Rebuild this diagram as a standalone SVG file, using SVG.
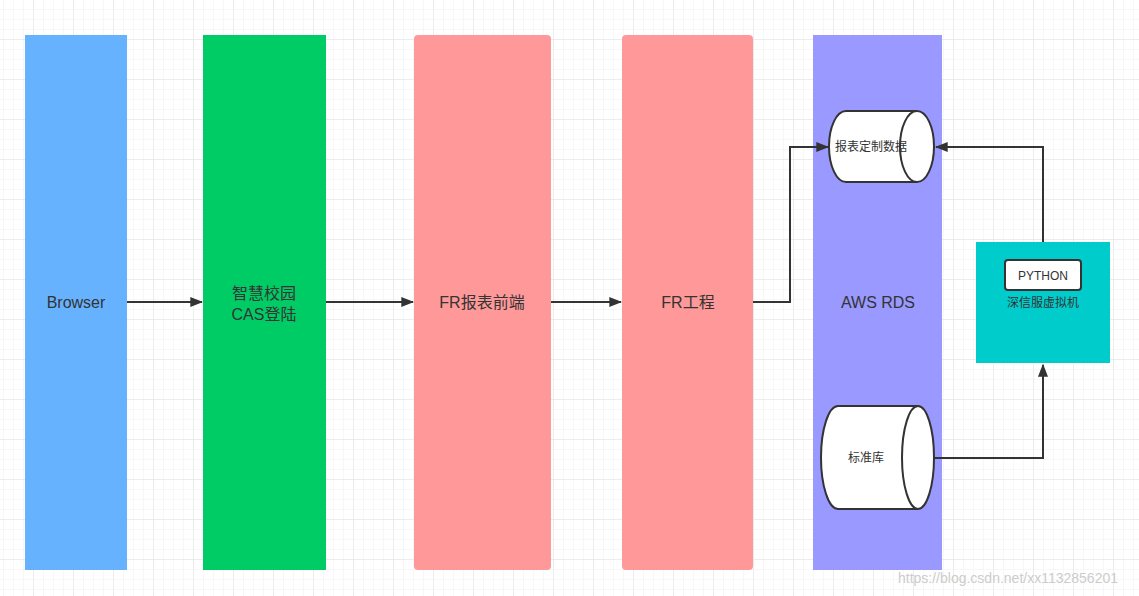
<svg xmlns="http://www.w3.org/2000/svg" width="1139" height="596" viewBox="0 0 1139 596">
<defs>
<pattern id="g1" x="3" y="-1" width="10" height="10" patternUnits="userSpaceOnUse"><path d="M0 0H10M0 0V10" stroke="#f0f0f0" stroke-width="1" fill="none"/></pattern>
<pattern id="g2" x="33" y="39" width="40" height="40" patternUnits="userSpaceOnUse"><path d="M0 0H40M0 0V40" stroke="#e2e2e2" stroke-width="1" fill="none"/></pattern>
<marker id="ar" viewBox="0 0 10 10" refX="9" refY="5" markerWidth="13" markerHeight="10" orient="auto" markerUnits="userSpaceOnUse" preserveAspectRatio="none"><path d="M0 0L10 5L0 10z" fill="#333"/></marker>
<style>
text{font-family:"Liberation Sans","Noto Sans CJK SC",sans-serif;fill:#333;text-anchor:middle}
.big{font-size:16px}
.sm{font-size:12px}
.cyl{fill:#fff;stroke:#333;stroke-width:2}
.c{fill:none;stroke:#333;stroke-width:2;marker-end:url(#ar)}
</style>
</defs>
<rect width="1139" height="596" fill="#fff"/>
<rect width="1139" height="596" fill="url(#g1)"/>
<rect width="1139" height="596" fill="url(#g2)"/>
<g id="browser"><rect x="25" y="35" width="102" height="535" fill="#66b2ff"/><text class="big" x="76" y="308">Browser</text></g>
<g id="cas"><rect x="203" y="35" width="123" height="535" fill="#00cc66"/><text class="big" x="264" y="299">智慧校园</text><text class="big" x="264" y="320">CAS登陆</text></g>
<g id="frfront"><rect x="414" y="35" width="137" height="535" rx="4" fill="#ff9999"/><text class="big" x="482" y="308">FR报表前端</text></g>
<g id="frproj"><rect x="622" y="35" width="131" height="535" rx="4" fill="#ff9999"/><text class="big" x="688" y="308">FR工程</text></g>
<g id="rds"><rect x="813" y="35" width="129" height="535" fill="#9999ff"/><text class="big" x="878" y="308">AWS RDS</text></g>
<g id="db1"><path class="cyl" d="M917 111H846A17 35.5 0 0 0 846 182H917"/><ellipse class="cyl" cx="917" cy="146.5" rx="17" ry="35.5"/><text class="sm" x="871" y="151">报表定制数据</text></g>
<g id="db2"><path class="cyl" d="M918 406H838A17 51.5 0 0 0 838 509H918"/><ellipse class="cyl" cx="918" cy="457.5" rx="16" ry="51.5"/><text class="sm" x="866" y="462">标准库</text></g>
<g id="vm"><rect x="976" y="242" width="134" height="121" fill="#00cccc"/><rect x="1005" y="260" width="76" height="30" rx="3" fill="#fff" stroke="#333" stroke-width="2"/><text class="sm" x="1043" y="280">PYTHON</text><text class="sm" x="1043" y="307">深信服虚拟机</text></g>
<g id="connectors">
<path class="c" d="M127 302H202"/>
<path class="c" d="M326 302H413"/>
<path class="c" d="M551 302H621"/>
<path class="c" d="M753 302H790V147H828"/>
<path class="c" d="M1043 242V147H936"/>
<path class="c" d="M934 458H1043V365"/>
</g>
<text x="1008" y="583" style="font-size:14px;fill:#ccc">https://blog.csdn.net/xx1132856201</text>
</svg>
